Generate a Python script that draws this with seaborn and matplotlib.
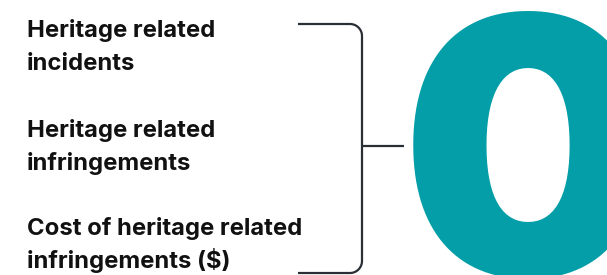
import numpy as np
import matplotlib
matplotlib.use("Agg")
import matplotlib.pyplot as plt
import seaborn as sns
from matplotlib.textpath import TextPath
from matplotlib.font_manager import FontProperties, findfont

# %% data
labels = [
    "Heritage related\nincidents",
    "Heritage related\ninfringements",
    "Cost of heritage related\ninfringements ($)",
]
value = "0"

# %% style
sns.set_theme(style="white")
plt.rcParams["font.family"] = ["Inter", "Lato", "DejaVu Sans"]

TEAL = "#039ea8"
INK = "#111111"
LINE = "#2a2f36"

W, H, DPI = 607, 275, 100
fig = plt.figure(figsize=(W / DPI, H / DPI), dpi=DPI)
ax = fig.add_axes([0, 0, 1, 1])
ax.set_xlim(0, W)
ax.set_ylim(H, 0)
ax.axis("off")


def installed(fam, weight):
    try:
        findfont(FontProperties(family=fam, weight=weight), fallback_to_default=False)
        return True
    except Exception:
        return False


# label font: fit the widest line to ~272 px
lab_fam = next(f for f in ["Inter", "Lato", "DejaVu Sans"] if installed(f, "bold"))
lab_fp = FontProperties(family=lab_fam, weight="bold")
w1 = TextPath((0, 0), "Cost of heritage related", size=1, prop=lab_fp).get_extents().width
lab_px = 272 / w1
lab_pt = lab_px * 72 / DPI

# labels, one block per metric, line by line
first_baselines = [37, 137, 235]
line_gap = 33
for lab, y0 in zip(labels, first_baselines):
    for i, line in enumerate(lab.split("\n")):
        ax.text(27, y0 + i * line_gap, line, ha="left", va="baseline",
                fontproperties=lab_fp, fontsize=lab_pt, color=INK)

# bracket
r = 12
xl, xr, yt, yb = 298, 362, 24, 273
t = np.linspace(0, np.pi / 2, 20)
top_arc_x = xr - r + r * np.sin(t)
top_arc_y = yt + r - r * np.cos(t)
bot_arc_x = xr - r + r * np.cos(t)
bot_arc_y = yb - r + r * np.sin(t)
bx = np.concatenate([[xl], top_arc_x, bot_arc_x, [xl]])
by = np.concatenate([[yt], top_arc_y, bot_arc_y, [yb]])
ax.plot(bx, by, color=LINE, lw=1.6, solid_capstyle="butt")
ax.plot([xr, 404], [146, 146], color=LINE, lw=1.6, solid_capstyle="butt")

# big value: take the installed heavy face with the roundest zero
best = None
for fam in ["Inter", "Roboto", "Lato", "Open Sans", "Noto Sans", "DejaVu Sans", "Liberation Sans"]:
    if not installed(fam, "black"):
        continue
    fp_c = FontProperties(family=fam, weight="black")
    e = TextPath((0, 0), value, size=1, prop=fp_c).get_extents()
    ratio = e.width / e.height
    if best is None or ratio > best[0]:
        best = (ratio, fp_c, e)
_, fp, ext = best
s_px = 267 / (ext.ymax - ext.ymin)
ax.text(413 - ext.xmin * s_px, 13 + ext.ymax * s_px, value, ha="left", va="baseline",
        fontproperties=fp, fontsize=s_px * 72 / DPI, color=TEAL)

fig.savefig("out.png", dpi=DPI)
